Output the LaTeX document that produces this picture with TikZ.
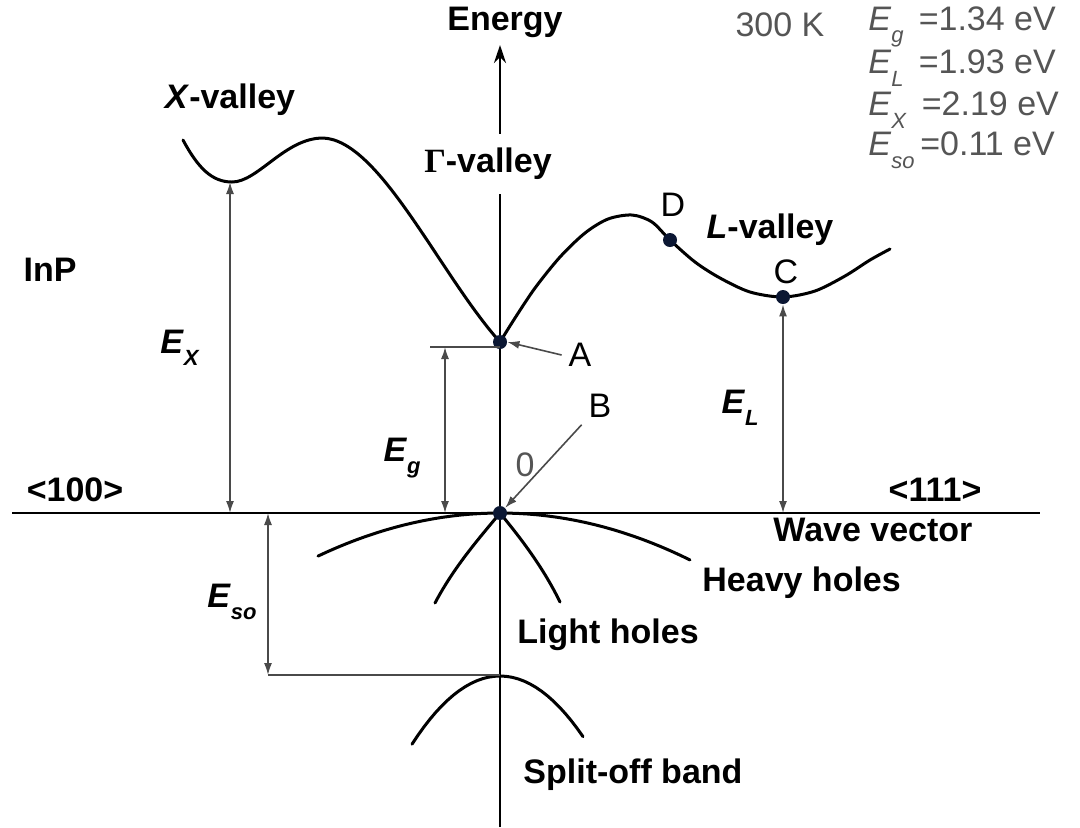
\documentclass[tikz,border=0pt]{standalone}
\usepackage{fontspec}
\setmainfont{Liberation Sans}
\newfontfamily\greekfont{Liberation Serif}
\usetikzlibrary{arrows.meta}
\definecolor{dotblue}{HTML}{0B1733}
\definecolor{txtgray}{HTML}{555555}
\definecolor{dimgray}{HTML}{4A4A4A}
\newcommand\bandsub[1]{\raisebox{-0.7ex}{\fontsize{11}{12}\selectfont\textit{#1}}}

\begin{document}
\begin{tikzpicture}[x=0.5pt,y=-0.5pt,
  font=\fontsize{17}{20}\selectfont,
  lbl/.style={font=\fontsize{17}{20}\selectfont\bfseries},
  val/.style={text=txtgray,anchor=west,inner sep=0pt},
  band/.style={line width=1.5pt,line cap=round},
  axis/.style={line width=1.3pt},
  dim/.style={{Latex[length=6pt,width=4pt]}-{Latex[length=6pt,width=4pt]},line width=0.8pt,dimgray},
  ptr/.style={-{Latex[length=6pt,width=4pt]},line width=0.8pt,dimgray},
  guide/.style={line width=0.9pt,dimgray},
  dot/.style={circle,fill=dotblue,inner sep=0pt,minimum size=7pt}]

\useasboundingbox (0,0) rectangle (1080,827);

% axes
\coordinate (ybot) at (500,827);
\coordinate (ytop) at (500,45);
\coordinate (xl) at (12,513);
\coordinate (xr) at (1040,513);
\draw[axis,-{Stealth[length=9pt,width=6pt]}] (ybot) -- (ytop);
\draw[axis] (xl) -- (xr);
\node[lbl] (energy) at (505,22) {Energy};
\node[lbl,fill=white,inner xsep=2pt,inner ysep=7pt] (gval) at (488,164) {{\greekfont Γ}-valley};

% conduction band
\draw[band] (183,140) .. controls (198,168) and (212,182) .. (232,182)
  .. controls (258,182) and (285,138) .. (323,138)
  .. controls (380,140) and (440,275) .. (500,342);
\draw[band] plot[smooth] coordinates {(500,342) (515,318) (535,288) (560,257) (585,233) (608,219) (632,215) (652,222) (670,240) (695,262) (720,278) (750,292) (783,297) (815,291) (845,276) (870,260) (890,249)};

% valence bands
\draw[band] plot[domain=-182:190,samples=40] ({500+\x},{513+13*(\x/100)^2});
\draw[band] (500,513) .. controls (482,535) and (455,565) .. (435,603);
\draw[band] (500,513) .. controls (518,535) and (542,565) .. (560,602);
\draw[band] plot[domain=-88:83,samples=30] ({500+\x},{676+88*(\x/100)^2});

% points
\node[dot] (A) at (500,342) {};
\node[dot] (B) at (500,513) {};
\node[dot] (C) at (783,297) {};
\node[dot] (D) at (670,240) {};
\coordinate (Xmin) at (230,182);

% gaps
\coordinate (gl) at (430,347);
\coordinate (gtop) at (445,347);
\coordinate (sol) at (268,675);
\coordinate (sor) at (500,675);
\draw[guide] (gl) -- (gl -| A);
\draw[guide] (sol) -- (sor);
\draw[dim] (Xmin) -- (Xmin |- B);
\draw[dim] (gtop) -- (gtop |- B);
\draw[dim] (C.south) -- (C |- B);
\draw[dim] (sol |- B) -- (sol);

\node[lbl] (ex) at (180,348) {\textit{E}\bandsub{X}};
\node[lbl] (eg) at (402,458) {\textit{E}\bandsub{g}};
\node[lbl] (el) at (740,408) {\textit{E}\bandsub{L}};
\node[lbl] (eso) at (232,602) {\textit{E}\bandsub{so}};

% point labels
\node (Alab) at (580,355) {A};
\node (Blab) at (600,406) {B};
\node (Clab) at (786,272) {C};
\node (Dlab) at (673,205) {D};
\node[text=txtgray] (zero) at (525,465) {0};
\draw[ptr] (Alab.west) -- (A.east);
\draw[ptr] (Blab.south west) -- (B.north east);

% band names
\node[lbl] (xval) at (230,100) {\textit{X}-valley};
\node[lbl] (lval) at (770,230) {\textit{L}-valley};
\node[lbl] (inp) at (50,270) {InP};
\node[lbl] (d100) at (75,490) {<100>};
\node[lbl] (d111) at (935,490) {<111>};
\node[lbl,anchor=west,inner sep=0pt] (wave) at (773,530) {Wave vector};
\node[lbl,anchor=west,inner sep=0pt] (heavy) at (702,583) {Heavy holes};
\node[lbl,anchor=west,inner sep=0pt] (light) at (517,635) {Light holes};
\node[lbl,anchor=west,inner sep=0pt] (split) at (523,775) {Split-off band};

% values
\node[text=txtgray] (temp) at (780,25) {300 K};
\node[val] (vg) at (868,27) {\textit{E}\bandsub{g}\, =1.34 eV};
\node[val] (vl) at (868,68) {\textit{E}\bandsub{L}\, =1.93 eV};
\node[val] (vx) at (868,110) {\textit{E}\bandsub{X}\, =2.19 eV};
\node[val] (vso) at (868,150) {\textit{E}\bandsub{so}\,=0.11 eV};
\end{tikzpicture}
\end{document}
